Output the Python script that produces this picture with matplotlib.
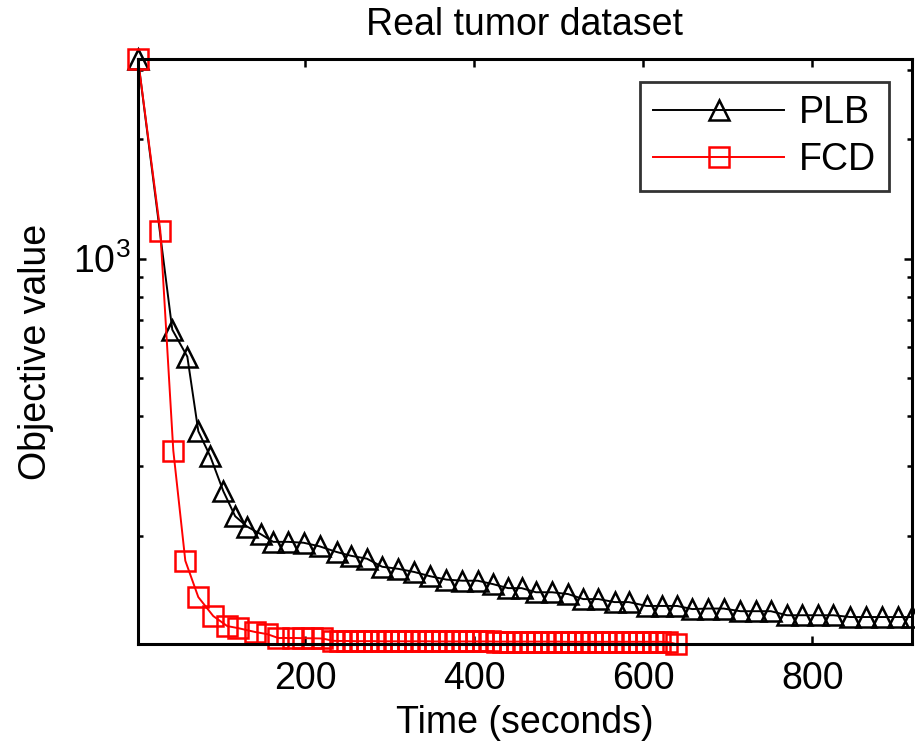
import matplotlib
matplotlib.use("Agg")
import matplotlib.pyplot as plt
from matplotlib.ticker import LogLocator, NullFormatter, FixedLocator

plt.rcParams['font.family'] = ['Liberation Sans', 'DejaVu Sans']
plt.rcParams['mathtext.fontset'] = 'custom'
plt.rcParams['mathtext.rm'] = 'Liberation Sans'
plt.rcParams['mathtext.it'] = 'Liberation Sans'

title = "Real tumor dataset"
xlabel = "Time (seconds)"
ylabel = "Objective value"
series_names = ["PLB", "FCD"]

plb_time = [2, 42.6, 60.4, 73.4, 87.6, 103, 117, 131, 147, 162, 180, 198, 217, 237,
            254, 273, 291, 310, 329, 348, 367, 386, 404, 422, 440, 456, 473, 492,
            511, 529, 547, 566, 583, 604, 622, 640, 658, 677, 695, 715, 733, 751,
            770, 788, 807, 825, 845, 863, 883, 901, 918]
plb_obj = [3190, 662, 566, 367, 317, 259, 224, 211, 202, 193, 193, 192, 188, 182,
           178, 175, 167, 165, 162, 158, 155, 154, 154, 151, 147.5, 147.5, 144, 144,
           142.5, 138.4, 138.4, 136, 136, 133, 133, 133, 130.6, 131, 131, 129, 129, 129,
           126, 126, 126, 126, 124.7, 124.7, 124.7, 124.7, 124.7]

fcd_time = [2, 28.4, 43.8, 58.0, 73.4, 91.1, 107.7, 120.7, 140.8, 155.0, 168.0, 185.8,
            197.6, 208.3, 220.1, 233.1, 241.4, 249.7, 258.0, 266.3, 273.4, 281.7,
            290.1, 298.2, 306.5, 313.6, 321.9, 330.2, 338.5, 346.7, 353.8, 362.1,
            370.4, 378.7, 387.0, 394.1, 402.4, 410.7, 418.9, 427.2, 434.3, 442.6,
            450.9, 459.2, 467.5, 474.6, 482.8, 491.1, 499.4, 507.7, 514.8, 523.1,
            531.4, 539.6, 547.9, 555.0, 563.3, 571.6, 579.9, 588.2, 595.3, 603.6,
            611.8, 620.1, 628.4, 639.1]
fcd_obj = [3190, 1176, 328, 173, 140, 125.4, 118.3, 116.9, 114.3, 112.9, 110.4, 110.4,
           110.3, 110.2, 110.1, 108.6, 108.5, 108.5, 108.4, 108.4, 108.4, 108.4,
           108.3, 108.3, 108.3, 108.3, 108.3, 108.3, 108.3, 108.3, 108.2, 108.2,
           108.2, 108.2, 108.2, 108.2, 108.2, 108.2, 108.2, 108.1, 108.1, 108.1,
           108.1, 108.1, 108.1, 108.1, 108.1, 108.1, 108.1, 108.0, 108.0, 108.0,
           108.0, 108.0, 108.0, 108.0, 108.0, 108.0, 108.0, 108.0, 108.0, 108.0,
           108.0, 108.0, 107.9, 106.6]

xticks = [200, 400, 600, 800]

fig = plt.figure(figsize=(9.15, 7.48), dpi=100)
ax = fig.add_axes([0.1508, 0.139, 0.8459, 0.7821])

ax.plot(plb_time, plb_obj, color='black', lw=1.4, marker='^', ms=14,
        mfc='none', mec='black', mew=1.8, label=series_names[0], clip_on=False)
ax.plot(fcd_time, fcd_obj, color='#ff0000', lw=1.4, marker='s', ms=14,
        mfc='none', mec='#ff0000', mew=1.8, label=series_names[1], clip_on=False)

ax.set_yscale('log')
allx = plb_time + fcd_time
ally = plb_obj + fcd_obj
ax.set_xlim(min(allx), max(allx))
ax.set_ylim(min(ally), max(ally))
ax.xaxis.set_major_locator(FixedLocator(xticks))
ax.yaxis.set_major_locator(LogLocator(base=10))
ax.yaxis.set_minor_locator(LogLocator(base=10, subs=range(2, 10)))
ax.yaxis.set_minor_formatter(NullFormatter())

for s in ax.spines.values():
    s.set_linewidth(2.2)
ax.tick_params(which='both', direction='in', top=True, right=True, labelsize=27, width=1.8)
ax.tick_params(which='major', length=6)
ax.tick_params(which='minor', length=3.5)
ax.tick_params(axis='x', pad=12)
ax.tick_params(axis='y', pad=5)

ax.set_title(title, fontsize=27, pad=17)
ax.set_xlabel(xlabel, fontsize=27, labelpad=6)
ax.set_ylabel(ylabel, fontsize=27, labelpad=14)

leg = ax.legend(loc='upper right', fontsize=27, frameon=True, fancybox=False,
                edgecolor='black', handlelength=3.5, borderaxespad=0.6,
                labelspacing=0.3, handletextpad=0.4, borderpad=0.35)
leg.get_frame().set_linewidth(2.0)

fig.savefig("out.png", dpi=100)
